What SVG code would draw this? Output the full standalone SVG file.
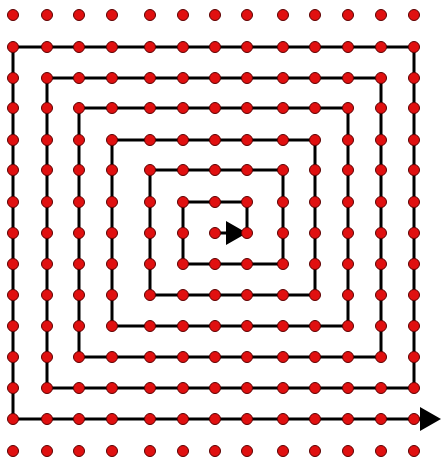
<svg xmlns="http://www.w3.org/2000/svg" width="442" height="462" viewBox="0 0 442 462">
<style>
.line{fill:none;stroke:#000;stroke-width:3;stroke-linejoin:miter}
.dot{fill:#e01010;stroke:#5a0000;stroke-width:1}
</style>
<defs>
<marker id="arrow" markerUnits="userSpaceOnUse" markerWidth="22" markerHeight="24" refX="3" refY="12" orient="auto">
<path d="M0,0 L21,12 L0,24 Z" fill="#000"/>
</marker>
<circle id="dot" class="dot" cx="0" cy="0" r="5.5"/>
</defs>
<rect width="442" height="462" fill="#fff"/>
<g id="connectors">
<polyline class="line" marker-end="url(#arrow)" points="247,233 247,202 183,202 183,264 283,264 283,170 150,170 150,295 315,295 315,140 112,140 112,326 348,326 348,108 79,108 79,357 381,357 381,78 47,78 47,388 414,388 414,47 13,47 13,419 423,419"/>
<line class="line" marker-end="url(#arrow)" x1="215" y1="233" x2="229" y2="233"/>
</g>
<g id="dots">
<g id="row0"><use id="r0c0" href="#dot" x="13" y="15"/><use id="r0c1" href="#dot" x="47" y="15"/><use id="r0c2" href="#dot" x="79" y="15"/><use id="r0c3" href="#dot" x="112" y="15"/><use id="r0c4" href="#dot" x="150" y="15"/><use id="r0c5" href="#dot" x="183" y="15"/><use id="r0c6" href="#dot" x="215" y="15"/><use id="r0c7" href="#dot" x="247" y="15"/><use id="r0c8" href="#dot" x="283" y="15"/><use id="r0c9" href="#dot" x="315" y="15"/><use id="r0c10" href="#dot" x="348" y="15"/><use id="r0c11" href="#dot" x="381" y="15"/><use id="r0c12" href="#dot" x="414" y="15"/></g>
<g id="row1"><use id="r1c0" href="#dot" x="13" y="47"/><use id="r1c1" href="#dot" x="47" y="47"/><use id="r1c2" href="#dot" x="79" y="47"/><use id="r1c3" href="#dot" x="112" y="47"/><use id="r1c4" href="#dot" x="150" y="47"/><use id="r1c5" href="#dot" x="183" y="47"/><use id="r1c6" href="#dot" x="215" y="47"/><use id="r1c7" href="#dot" x="247" y="47"/><use id="r1c8" href="#dot" x="283" y="47"/><use id="r1c9" href="#dot" x="315" y="47"/><use id="r1c10" href="#dot" x="348" y="47"/><use id="r1c11" href="#dot" x="381" y="47"/><use id="r1c12" href="#dot" x="414" y="47"/></g>
<g id="row2"><use id="r2c0" href="#dot" x="13" y="78"/><use id="r2c1" href="#dot" x="47" y="78"/><use id="r2c2" href="#dot" x="79" y="78"/><use id="r2c3" href="#dot" x="112" y="78"/><use id="r2c4" href="#dot" x="150" y="78"/><use id="r2c5" href="#dot" x="183" y="78"/><use id="r2c6" href="#dot" x="215" y="78"/><use id="r2c7" href="#dot" x="247" y="78"/><use id="r2c8" href="#dot" x="283" y="78"/><use id="r2c9" href="#dot" x="315" y="78"/><use id="r2c10" href="#dot" x="348" y="78"/><use id="r2c11" href="#dot" x="381" y="78"/><use id="r2c12" href="#dot" x="414" y="78"/></g>
<g id="row3"><use id="r3c0" href="#dot" x="13" y="108"/><use id="r3c1" href="#dot" x="47" y="108"/><use id="r3c2" href="#dot" x="79" y="108"/><use id="r3c3" href="#dot" x="112" y="108"/><use id="r3c4" href="#dot" x="150" y="108"/><use id="r3c5" href="#dot" x="183" y="108"/><use id="r3c6" href="#dot" x="215" y="108"/><use id="r3c7" href="#dot" x="247" y="108"/><use id="r3c8" href="#dot" x="283" y="108"/><use id="r3c9" href="#dot" x="315" y="108"/><use id="r3c10" href="#dot" x="348" y="108"/><use id="r3c11" href="#dot" x="381" y="108"/><use id="r3c12" href="#dot" x="414" y="108"/></g>
<g id="row4"><use id="r4c0" href="#dot" x="13" y="140"/><use id="r4c1" href="#dot" x="47" y="140"/><use id="r4c2" href="#dot" x="79" y="140"/><use id="r4c3" href="#dot" x="112" y="140"/><use id="r4c4" href="#dot" x="150" y="140"/><use id="r4c5" href="#dot" x="183" y="140"/><use id="r4c6" href="#dot" x="215" y="140"/><use id="r4c7" href="#dot" x="247" y="140"/><use id="r4c8" href="#dot" x="283" y="140"/><use id="r4c9" href="#dot" x="315" y="140"/><use id="r4c10" href="#dot" x="348" y="140"/><use id="r4c11" href="#dot" x="381" y="140"/><use id="r4c12" href="#dot" x="414" y="140"/></g>
<g id="row5"><use id="r5c0" href="#dot" x="13" y="170"/><use id="r5c1" href="#dot" x="47" y="170"/><use id="r5c2" href="#dot" x="79" y="170"/><use id="r5c3" href="#dot" x="112" y="170"/><use id="r5c4" href="#dot" x="150" y="170"/><use id="r5c5" href="#dot" x="183" y="170"/><use id="r5c6" href="#dot" x="215" y="170"/><use id="r5c7" href="#dot" x="247" y="170"/><use id="r5c8" href="#dot" x="283" y="170"/><use id="r5c9" href="#dot" x="315" y="170"/><use id="r5c10" href="#dot" x="348" y="170"/><use id="r5c11" href="#dot" x="381" y="170"/><use id="r5c12" href="#dot" x="414" y="170"/></g>
<g id="row6"><use id="r6c0" href="#dot" x="13" y="202"/><use id="r6c1" href="#dot" x="47" y="202"/><use id="r6c2" href="#dot" x="79" y="202"/><use id="r6c3" href="#dot" x="112" y="202"/><use id="r6c4" href="#dot" x="150" y="202"/><use id="r6c5" href="#dot" x="183" y="202"/><use id="r6c6" href="#dot" x="215" y="202"/><use id="r6c7" href="#dot" x="247" y="202"/><use id="r6c8" href="#dot" x="283" y="202"/><use id="r6c9" href="#dot" x="315" y="202"/><use id="r6c10" href="#dot" x="348" y="202"/><use id="r6c11" href="#dot" x="381" y="202"/><use id="r6c12" href="#dot" x="414" y="202"/></g>
<g id="row7"><use id="r7c0" href="#dot" x="13" y="233"/><use id="r7c1" href="#dot" x="47" y="233"/><use id="r7c2" href="#dot" x="79" y="233"/><use id="r7c3" href="#dot" x="112" y="233"/><use id="r7c4" href="#dot" x="150" y="233"/><use id="r7c5" href="#dot" x="183" y="233"/><use id="r7c6" href="#dot" x="215" y="233"/><use id="r7c7" href="#dot" x="247" y="233"/><use id="r7c8" href="#dot" x="283" y="233"/><use id="r7c9" href="#dot" x="315" y="233"/><use id="r7c10" href="#dot" x="348" y="233"/><use id="r7c11" href="#dot" x="381" y="233"/><use id="r7c12" href="#dot" x="414" y="233"/></g>
<g id="row8"><use id="r8c0" href="#dot" x="13" y="264"/><use id="r8c1" href="#dot" x="47" y="264"/><use id="r8c2" href="#dot" x="79" y="264"/><use id="r8c3" href="#dot" x="112" y="264"/><use id="r8c4" href="#dot" x="150" y="264"/><use id="r8c5" href="#dot" x="183" y="264"/><use id="r8c6" href="#dot" x="215" y="264"/><use id="r8c7" href="#dot" x="247" y="264"/><use id="r8c8" href="#dot" x="283" y="264"/><use id="r8c9" href="#dot" x="315" y="264"/><use id="r8c10" href="#dot" x="348" y="264"/><use id="r8c11" href="#dot" x="381" y="264"/><use id="r8c12" href="#dot" x="414" y="264"/></g>
<g id="row9"><use id="r9c0" href="#dot" x="13" y="295"/><use id="r9c1" href="#dot" x="47" y="295"/><use id="r9c2" href="#dot" x="79" y="295"/><use id="r9c3" href="#dot" x="112" y="295"/><use id="r9c4" href="#dot" x="150" y="295"/><use id="r9c5" href="#dot" x="183" y="295"/><use id="r9c6" href="#dot" x="215" y="295"/><use id="r9c7" href="#dot" x="247" y="295"/><use id="r9c8" href="#dot" x="283" y="295"/><use id="r9c9" href="#dot" x="315" y="295"/><use id="r9c10" href="#dot" x="348" y="295"/><use id="r9c11" href="#dot" x="381" y="295"/><use id="r9c12" href="#dot" x="414" y="295"/></g>
<g id="row10"><use id="r10c0" href="#dot" x="13" y="326"/><use id="r10c1" href="#dot" x="47" y="326"/><use id="r10c2" href="#dot" x="79" y="326"/><use id="r10c3" href="#dot" x="112" y="326"/><use id="r10c4" href="#dot" x="150" y="326"/><use id="r10c5" href="#dot" x="183" y="326"/><use id="r10c6" href="#dot" x="215" y="326"/><use id="r10c7" href="#dot" x="247" y="326"/><use id="r10c8" href="#dot" x="283" y="326"/><use id="r10c9" href="#dot" x="315" y="326"/><use id="r10c10" href="#dot" x="348" y="326"/><use id="r10c11" href="#dot" x="381" y="326"/><use id="r10c12" href="#dot" x="414" y="326"/></g>
<g id="row11"><use id="r11c0" href="#dot" x="13" y="357"/><use id="r11c1" href="#dot" x="47" y="357"/><use id="r11c2" href="#dot" x="79" y="357"/><use id="r11c3" href="#dot" x="112" y="357"/><use id="r11c4" href="#dot" x="150" y="357"/><use id="r11c5" href="#dot" x="183" y="357"/><use id="r11c6" href="#dot" x="215" y="357"/><use id="r11c7" href="#dot" x="247" y="357"/><use id="r11c8" href="#dot" x="283" y="357"/><use id="r11c9" href="#dot" x="315" y="357"/><use id="r11c10" href="#dot" x="348" y="357"/><use id="r11c11" href="#dot" x="381" y="357"/><use id="r11c12" href="#dot" x="414" y="357"/></g>
<g id="row12"><use id="r12c0" href="#dot" x="13" y="388"/><use id="r12c1" href="#dot" x="47" y="388"/><use id="r12c2" href="#dot" x="79" y="388"/><use id="r12c3" href="#dot" x="112" y="388"/><use id="r12c4" href="#dot" x="150" y="388"/><use id="r12c5" href="#dot" x="183" y="388"/><use id="r12c6" href="#dot" x="215" y="388"/><use id="r12c7" href="#dot" x="247" y="388"/><use id="r12c8" href="#dot" x="283" y="388"/><use id="r12c9" href="#dot" x="315" y="388"/><use id="r12c10" href="#dot" x="348" y="388"/><use id="r12c11" href="#dot" x="381" y="388"/><use id="r12c12" href="#dot" x="414" y="388"/></g>
<g id="row13"><use id="r13c0" href="#dot" x="13" y="419"/><use id="r13c1" href="#dot" x="47" y="419"/><use id="r13c2" href="#dot" x="79" y="419"/><use id="r13c3" href="#dot" x="112" y="419"/><use id="r13c4" href="#dot" x="150" y="419"/><use id="r13c5" href="#dot" x="183" y="419"/><use id="r13c6" href="#dot" x="215" y="419"/><use id="r13c7" href="#dot" x="247" y="419"/><use id="r13c8" href="#dot" x="283" y="419"/><use id="r13c9" href="#dot" x="315" y="419"/><use id="r13c10" href="#dot" x="348" y="419"/><use id="r13c11" href="#dot" x="381" y="419"/><use id="r13c12" href="#dot" x="414" y="419"/></g>
<g id="row14"><use id="r14c0" href="#dot" x="13" y="451"/><use id="r14c1" href="#dot" x="47" y="451"/><use id="r14c2" href="#dot" x="79" y="451"/><use id="r14c3" href="#dot" x="112" y="451"/><use id="r14c4" href="#dot" x="150" y="451"/><use id="r14c5" href="#dot" x="183" y="451"/><use id="r14c6" href="#dot" x="215" y="451"/><use id="r14c7" href="#dot" x="247" y="451"/><use id="r14c8" href="#dot" x="283" y="451"/><use id="r14c9" href="#dot" x="315" y="451"/><use id="r14c10" href="#dot" x="348" y="451"/><use id="r14c11" href="#dot" x="381" y="451"/><use id="r14c12" href="#dot" x="414" y="451"/></g>
</g>
</svg>
